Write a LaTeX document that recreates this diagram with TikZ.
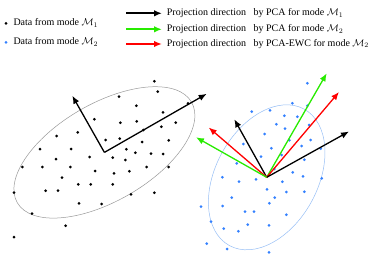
\documentclass[tikz,border=0pt]{standalone}
\usepackage{fontspec}
\setmainfont{Liberation Serif}
\usetikzlibrary{arrows.meta}
\definecolor{ptblue}{RGB}{51,128,255}
\definecolor{ellblue}{RGB}{150,190,245}
\definecolor{pgreen}{RGB}{40,235,0}
\definecolor{pred}{RGB}{255,0,0}
\begin{document}
\begin{tikzpicture}[x=1pt,y=-1pt,
  dir/.style={line width=1.3pt,-{Latex[length=8pt,width=6.5pt]}},
  legdir/.style={line width=1.7pt,-{Latex[length=8pt,width=6.5pt]}},
  lbl/.style={anchor=west,inner sep=0pt,font=\fontsize{10}{12}\selectfont}]
\useasboundingbox (0,0) rectangle (374,259);
% legend
\fill[black] (6,23.3) circle (1.5pt);
\node[lbl] (t1) at (13.3,23) {Data from mode $\mathcal{M}_1$};
\fill[ptblue] (6,42.3) circle (1.5pt);
\node[lbl] (t2) at (13.3,42) {Data from mode $\mathcal{M}_2$};
\coordinate (a1s) at (126,13.3); \coordinate (a1e) at (162,13.3);
\coordinate (a2s) at (126,29.3); \coordinate (a2e) at (162,29.3);
\coordinate (a3s) at (126,44);   \coordinate (a3e) at (162,44);
\draw[legdir,black] (a1s) -- (a1e);
\draw[legdir,pgreen] (a2s) -- (a2e);
\draw[legdir,pred] (a3s) -- (a3e);
\node[lbl] (t3) at (166.7,13.3) {Projection direction\hspace{5pt} by PCA for mode $\mathcal{M}_1$};
\node[lbl] (t4) at (166.7,29.3) {Projection direction\hspace{5pt} by PCA for mode $\mathcal{M}_2$};
\node[lbl] (t5) at (166.7,44) {Projection direction\hspace{5pt} by PCA-EWC for mode $\mathcal{M}_2$};
% left cluster
\coordinate (o1) at (104.4,152.4);
\draw[gray!80,line width=0.5pt,rotate around={30:(o1)}] (o1) ellipse [x radius=100.6pt,y radius=48.8pt];
\foreach \p in {(154.3,81.3),(157.7,91.7),(119,96.7),(136.3,105.7),(163,112.3),(94.3,119.3),(120.3,122.7),(136.7,121.3),(175.7,122.7),(161.3,126.7),(143.3,130),(77.7,132.3),(56.7,136),(105.7,140),(119.7,138.7),(142,142),(168.7,140.3),(40,149),(71,149),(126.3,149.3),(135.3,152.7),(151,153.7),(163,154),(89.7,157),(112.7,157.7),(125.3,160),(56,159),(22.3,167),(42.3,167),(70.3,167),(146.7,167),(168.7,167),(95,171),(114,173.3),(129.3,171.3),(62,177.7),(78.3,184.3),(90.7,184.3),(112.7,184.3),(45.7,190.7),(58,190.7),(14,192.7),(131,194.3),(154.3,192.7),(79,203.3),(101.7,204),(32,213.7),(65.7,225.7),(14,237),(188,103.3)}
  \fill[black] \p circle (1.5pt);
\coordinate (l1a) at (72.3,95.7);
\coordinate (l1b) at (206.7,93.8);
\draw[dir,black] (o1) -- (l1a);
\draw[dir,black] (o1) -- (l1b);
% right cluster
\coordinate (o2) at (266.7,177.3);
\draw[ellblue,line width=0.5pt,rotate around={61.3:(o2)}] (o2) ellipse [x radius=77.8pt,y radius=51pt];
\foreach \p in {(307.3,83.3),(292.3,103.3),(307.3,105.7),(251.7,111.7),(270,110.3),(284.3,115.7),(297.3,116.7),(276.3,124.3),(285,128.7),(309,125),(264.7,134),(243.3,144),(289.3,140.3),(310.7,140),(271.3,148.3),(301.7,146),(320.7,148.7),(261,156.7),(281.7,155),(304.3,159.7),(236.7,163.3),(274.3,169),(292.7,172.3),(222.3,177.3),(239,181.7),(256,179.3),(282.3,181.7),(303,176.3),(321.7,178.3),(267,189.3),(286.3,192),(304.3,191.7),(231.7,197.7),(274.7,197.7),(269.3,203.3),(201,206.7),(222.7,206),(245,211.7),(254,211.7),(286.3,214.7),(211,221.7),(247.7,224.7),(269,225.3),(223.7,228.7),(238.3,231.3),(206.7,243.7),(227,249),(269,252.3)}
  \fill[ptblue] \p circle (1.5pt);
\coordinate (gU) at (326.7,73.3);
\coordinate (rU) at (339,92);
\coordinate (kR) at (349,131.5);
\coordinate (kL) at (234.3,119.3);
\coordinate (rL) at (208.7,127.5);
\coordinate (gL) at (196,137.3);
\draw[dir,pgreen] (o2) -- (gU);
\draw[dir,pred] (o2) -- (rU);
\draw[dir,black] (o2) -- (kR);
\draw[dir,black] (o2) -- (kL);
\draw[dir,pred] (o2) -- (rL);
\draw[dir,pgreen] (o2) -- (gL);
\end{tikzpicture}
\end{document}
